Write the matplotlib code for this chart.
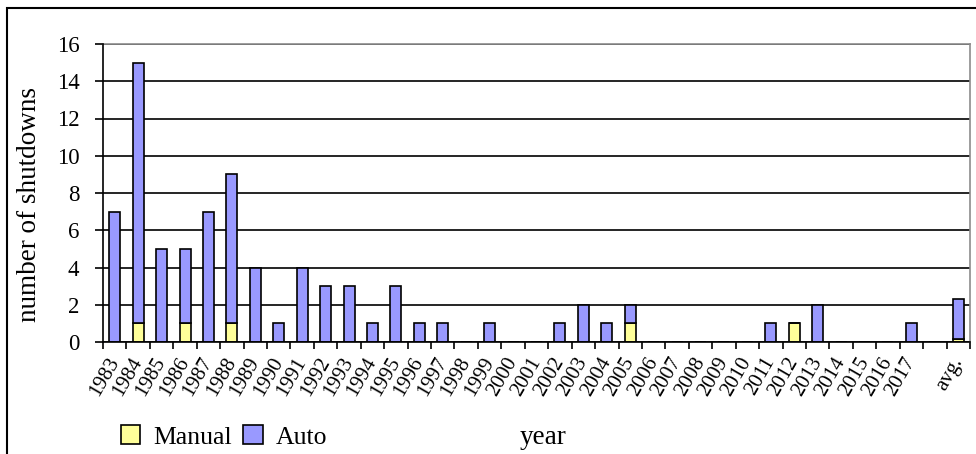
import matplotlib
matplotlib.use('Agg')
import matplotlib.pyplot as plt
from matplotlib.patches import Rectangle
import numpy as np

plt.rcParams['font.family'] = ['Liberation Serif', 'DejaVu Serif']

# categories: years, one empty slot, then the average
years = [str(y) for y in range(1983, 2018)] + ['', 'avg.']

manual = [0, 1, 0, 1, 0, 1, 0, 0, 0, 0, 0, 0, 0, 0, 0, 0, 0,
          0, 0, 0, 0, 0, 1, 0, 0, 0, 0, 0, 0, 1, 0, 0, 0, 0, 0,
          0, 0.14]
auto = [7, 14, 5, 4, 7, 8, 4, 1, 4, 3, 3, 1, 3, 1, 1, 0, 1,
        0, 0, 1, 2, 1, 1, 0, 0, 0, 0, 0, 1, 0, 2, 0, 0, 0, 1,
        0, 2.17]

y_ticks = [0, 2, 4, 6, 8, 10, 12, 14, 16]

W, H = 976, 454
fig = plt.figure(figsize=(W / 100, H / 100), dpi=100)
ax = fig.add_axes([103 / W, 1 - 342 / H, (970 - 103) / W, (342 - 44) / H])

x = np.arange(len(years))
b_manual = ax.bar(x, manual, width=0.47, color='#FFFF99', edgecolor='black',
                  linewidth=1.2, label='Manual', zorder=3)
b_auto = ax.bar(x, auto, width=0.47, bottom=manual, color='#9999FF',
                edgecolor='black', linewidth=1.2, label='Auto', zorder=3)

ax.set_xlim(-0.5, len(years) - 0.5)
ax.set_ylim(0, 16)
ax.set_yticks(y_ticks)
ax.set_yticklabels([str(t) for t in y_ticks], fontsize=16.5)
ax.tick_params(axis='y', direction='out', length=6, width=1.2, pad=11)

ax.set_xticks(x)
ax.set_xticklabels(years, rotation=60, ha='right', va='center',
                   rotation_mode='anchor', fontsize=15)
ax.tick_params(axis='x', which='major', length=0, pad=12)
ax.set_xticks(np.arange(len(years) + 1) - 0.5, minor=True)
ax.tick_params(axis='x', which='minor', direction='out', length=5, width=1.2)

ax.yaxis.grid(True, color='black', linewidth=1.2, zorder=1)
ax.set_axisbelow(True)
for s in ['left', 'bottom']:
    ax.spines[s].set_color('black')
    ax.spines[s].set_linewidth(1.2)
    ax.spines[s].set_zorder(4)
for s in ['top', 'right']:
    ax.spines[s].set_color('#8c8c8c')
    ax.spines[s].set_linewidth(1.2)

fig.text(30 / W, 1 - 205 / H, 'number of shutdowns', rotation=90,
         ha='center', va='center', fontsize=19.5)
fig.text(543 / W, 1 - 438 / H, 'year', ha='center', va='center', fontsize=19.5)

fig.legend(handles=[b_manual, b_auto], labels=['Manual', 'Auto'],
           loc='center left', bbox_to_anchor=(121 / W, 1 - 437 / H),
           ncol=2, frameon=False, fontsize=18.5, handlelength=0.75,
           handleheight=0.75, handletextpad=0.5, columnspacing=0.45,
           borderaxespad=0, borderpad=0)

fig.patches.append(Rectangle((7 / W, -0.05), 1.0, 1 - 8 / H + 0.05,
                             transform=fig.transFigure, fill=False,
                             edgecolor='black', linewidth=1.5))

fig.savefig('out.png', dpi=100)
